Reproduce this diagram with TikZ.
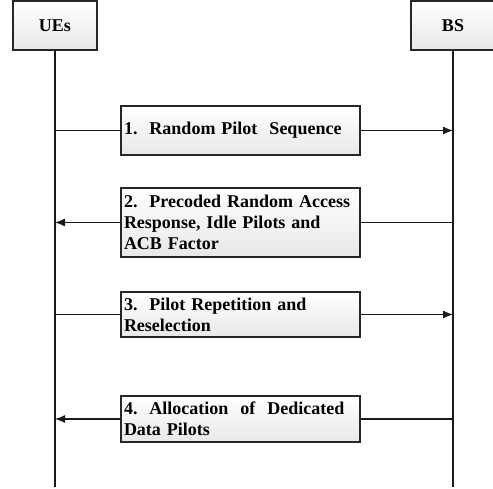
\documentclass[tikz,border=0pt]{standalone}
\usepackage{fontspec}
\setmainfont{Liberation Serif}
\usetikzlibrary{arrows.meta,shadows}
\begin{document}
\begin{tikzpicture}[x=1pt,y=-1pt,
  every node/.style={font=\fontsize{18}{21}\selectfont\bfseries},
  box/.style={draw=black!85,line width=1.3pt,rectangle,top color=white,bottom color=black!9,
    drop shadow={opacity=0.2,shadow xshift=1.2pt,shadow yshift=-1.2pt}},
  ent/.style={box,minimum width=84pt,minimum height=49pt,inner sep=0pt},
  msg/.style={box,minimum width=239pt,text width=233pt,inner xsep=3pt,inner ysep=0pt,align=left},
  life/.style={line width=1.2pt,black!90},
  sig/.style={line width=1.2pt,black!90},
  tip/.style={sig,-{Latex[length=10pt,width=8pt]}}]
\useasboundingbox (0,0) rectangle (493,489);
\node[ent] (ue) at (55,25.5) {UEs};
\node[ent] (bs) at (453,25.5) {BS};
\coordinate (ueend) at (55,487);
\coordinate (bsend) at (453,487);
\draw[life] (ue.south) -- (ueend);
\draw[life] (bs.south) -- (bsend);
\node[msg,minimum height=49pt] (m1) at (240.5,130.5) {1.\ \ Random Pilot\ \ Sequence};
\node[msg,minimum height=69pt] (m2) at (240.5,222.5) {2.\ \ Precoded Random Access\\Response, Idle Pilots and\\ACB Factor};
\node[msg,minimum height=45pt] (m3) at (240.5,314.5) {3.\ \ Pilot Repetition and\\Reselection};
\node[msg,minimum height=46pt] (m4) at (240.5,419) {\makebox[218pt][s]{4.\ \ Allocation\ \ of\ \ Dedicated}\\Data Pilots};
\coordinate (u1) at (55,130.5); \coordinate (b1) at (453,130.5);
\coordinate (u2) at (55,222.5); \coordinate (b2) at (453,222.5);
\coordinate (u3) at (55,314.5); \coordinate (b3) at (453,314.5);
\coordinate (u4) at (55,419); \coordinate (b4) at (453,419);
\draw[sig] (u1) -- (m1.west);
\draw[tip] (m1.east) -- (b1);
\draw[sig] (b2) -- (m2.east);
\draw[tip] (m2.west) -- (u2);
\draw[sig] (u3) -- (m3.west);
\draw[tip] (m3.east) -- (b3);
\draw[sig] (b4) -- (m4.east);
\draw[tip] (m4.west) -- (u4);
\end{tikzpicture}
\end{document}
